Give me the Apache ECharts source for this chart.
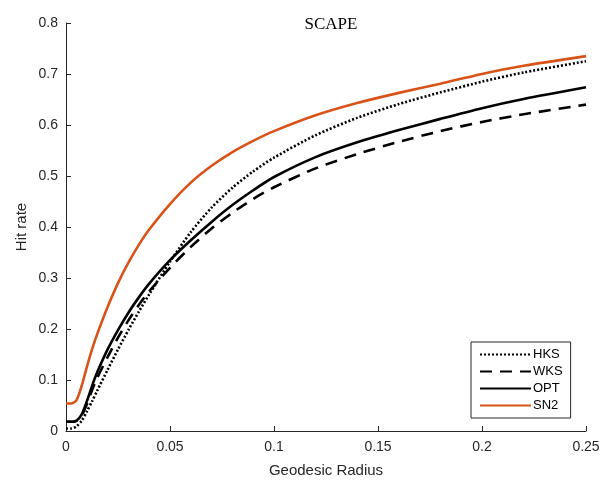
<!DOCTYPE html>
<html><head><meta charset="utf-8">
<script src="https://cdn.jsdelivr.net/npm/echarts@6/dist/echarts.min.js"></script>
<style>html,body{margin:0;padding:0;background:#fff}#c{width:613px;height:483px}</style>
</head><body><div id="c"></div>
<script>
const radius = [0, 0.0025, 0.005, 0.0075, 0.01, 0.0125, 0.015, 0.02, 0.025, 0.03, 0.035, 0.04, 0.05, 0.06, 0.07, 0.08, 0.09, 0.1, 0.12, 0.14, 0.16, 0.18, 0.2, 0.22, 0.25];
const hks = [0.005, 0.005, 0.009, 0.02, 0.038, 0.058, 0.079, 0.12, 0.16, 0.198, 0.234, 0.268, 0.332, 0.39, 0.438, 0.477, 0.509, 0.536, 0.58, 0.614, 0.641, 0.664, 0.685, 0.703, 0.725];
const wks = [0.018, 0.018, 0.02, 0.03, 0.052, 0.08, 0.104, 0.145, 0.183, 0.217, 0.247, 0.274, 0.32, 0.361, 0.397, 0.428, 0.455, 0.478, 0.515, 0.543, 0.567, 0.588, 0.606, 0.621, 0.64];
const opt = [0.018, 0.018, 0.02, 0.032, 0.058, 0.088, 0.115, 0.16, 0.198, 0.232, 0.262, 0.289, 0.335, 0.374, 0.41, 0.443, 0.472, 0.498, 0.537, 0.566, 0.59, 0.612, 0.633, 0.651, 0.674];
const sn2 = [0.054, 0.054, 0.06, 0.088, 0.125, 0.16, 0.19, 0.243, 0.29, 0.33, 0.365, 0.395, 0.445, 0.487, 0.52, 0.547, 0.569, 0.588, 0.619, 0.643, 0.663, 0.681, 0.7, 0.716, 0.735];
const names = ['HKS', 'WKS', 'OPT', 'SN2'];
const xTicks = [0, 0.05, 0.1, 0.15, 0.2, 0.25];

const pair = arr => radius.map((x, i) => [x, arr[i]]);
const axisCol = '#262626';
const mk = (name, data, color, type) => ({
  name, type: 'line', data: pair(data), showSymbol: false, symbol: 'none', smooth: 0.25,
  lineStyle: { color, width: 2.6, type }, itemStyle: { color }
});
const chart = echarts.init(document.getElementById('c'));
chart.setOption({
  animation: false,
  title: { text: 'SCAPE', left: 326, top: 11, textAlign: 'center',
    textStyle: { fontFamily: 'Liberation Serif', fontSize: 17, fontWeight: 'normal', color: '#000' } },
  grid: { left: 66, right: 27, top: 23, bottom: 49 },
  legend: {
    data: names, orient: 'vertical', left: 471, top: 342, width: 100,
    padding: [6, 8, 6, 8], itemGap: 4, itemWidth: 51, itemHeight: 12,
    borderColor: '#262626', borderWidth: 1, backgroundColor: '#fff',
    itemStyle: { opacity: 0 },
    textStyle: { fontFamily: 'Liberation Sans', fontSize: 13, color: '#000', padding: [0, 0, 0, -3] }
  },
  xAxis: {
    type: 'value', min: 0, max: 0.25, interval: 0.05,
    name: 'Geodesic Radius', nameLocation: 'middle', nameGap: 32,
    nameTextStyle: { fontFamily: 'Liberation Sans', fontSize: 15, color: axisCol },
    axisLine: { show: true, lineStyle: { color: axisCol, width: 1 } },
    axisTick: { show: true, inside: true, length: 5, lineStyle: { color: axisCol } },
    axisLabel: { fontFamily: 'Liberation Sans', fontSize: 14, color: axisCol, margin: 9,
      formatter: v => { const t = xTicks.find(k => Math.abs(k - v) < 1e-9); return t === undefined ? '' : String(t); } },
    splitLine: { show: false }
  },
  yAxis: {
    type: 'value', min: 0, max: 0.8, interval: 0.1,
    name: 'Hit rate', nameLocation: 'middle', nameGap: 37, nameMoveOverlap: false,
    nameTextStyle: { fontFamily: 'Liberation Sans', fontSize: 15, color: axisCol },
    axisLine: { show: true, lineStyle: { color: axisCol, width: 1 } },
    axisTick: { show: true, inside: true, length: 5, lineStyle: { color: axisCol } },
    axisLabel: { fontFamily: 'Liberation Sans', fontSize: 14, color: axisCol, margin: 8,
      formatter: v => v === 0 ? '0' : v.toFixed(1) },
    splitLine: { show: false }
  },
  series: [
    mk('HKS', hks, '#000', [2, 2]),
    mk('WKS', wks, '#000', [12, 8]),
    mk('OPT', opt, '#000', 'solid'),
    mk('SN2', sn2, '#D95319', 'solid')
  ]
});
</script></body></html>
